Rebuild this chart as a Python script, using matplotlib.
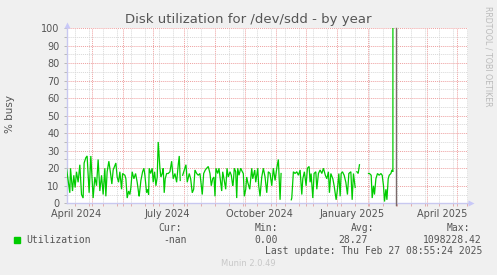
import numpy as np
import pandas as pd
import matplotlib
matplotlib.use("Agg")
import matplotlib.pyplot as plt
import matplotlib.dates as mdates

# ---- data ----
start_date = "2024-04-06"
day_offsets = [
    0, 2.3, 3.3, 4, 6, 7.3, 8.6, 10, 11.6, 13.3, 15, 16.6, 17.6, 19.3, 20.6, 22.6, 24.3,
    26.6, 28.3, 30, 31.6, 33.3, 35, 36.6, 38.3, 39.3, 40.6, 42.3, 44, 45.3, 46.6, 48,
    49.3, 50.6, 52, 53.3, 55, 56, 58.3, 59.3, 60.6, 62, 63.3, 64.3, 65.6, 67.3, 69,
    70.6, 72, 72.6, 74.3, 76, 77.3, 78.3, 80, 81, 82, 82.6, 84, 85.6, 86.6, 88, 89.3,
    90.6, 91.6, 93.3, 94.3, 95.6, 96.6, 97.6, 98.6, 100, 101.6, 103.3, 105, 106.6,
    108.3, 110, 111.6, 112.6, 113.6, 114.8, 116, 117.6, 119.3, 120.6, 122.6, 124,
    125.6, 127, 128.3, 130, 131.6, 133.3, 134.3, 135.6, 137, 138.6, 140, 141.6, 143.3,
    144.6, 146, 147.3, 148.3, 149.3, 151, 152.3, 154, 155, 156, 157.3, 159, 160.3,
    161.6, 163.3, 164.6, 166, 166.6, 167.6, 169, 170, 171, 172.3, 174, 175.6, 176.6,
    177.6, 179, 180, 181, 183, 185, 186, 188, 189, 191, 192, 193.3, 195, 196.6, 198.3,
    200, 201.6, 203.3, 205, 206.6, 208.3, 210, 211.6, 213.3, 214.3, 220, 224.5, 225,
    226.6, 228.3, 230, 231.6, 233.3, 235, 236, 237.6, 239.3, 240.6, 242.3, 243.3,
    244.3, 246, 247.3, 249, 250, 251.6, 253.3, 255, 256.6, 258.5, 260, 261.6, 262.6,
    264, 266, 267.3, 269.3, 270.6, 272, 273.3, 274.3, 275.6, 277.3, 279, 280.6, 282,
    284, 285.3, 286.6, 288.3, 289.2, 290, 291.3, 292.6, 297, 301.6, 302.6, 304.3,
    305.3, 306.6, 307.6, 309, 310.6, 312.3, 314, 315.3, 316.6, 317.6, 319, 320, 321.3,
    322.3, 324, 325, 326, 327,
]
util = [
    20, 10, 6, 20, 7, 16, 9, 18, 12, 22, 5, 3, 23, 26, 27, 6, 27,
    3, 15, 10, 25, 7, 16, 5, 20, 4, 18, 24, 17, 11, 19, 21,
    23, 15, 12, 18, 8, 17, 16, 14, 3, 7, 5, 9, 18, 14, 17,
    12, 6, 4, 13, 18, 20, 16, 6, 8, 5, 20, 17, 20, 12, 18, 10,
    15, 35, 20, 15, 17, 20, 6, 14, 17, 17, 18, 24, 14,
    17, 12, 22, 27, 13, np.nan, 16, 19, 22, 12, 17, 14,
    6, 8, 19, 17, 16, 17, 12, 5, 17, 19, 20, 21, 17,
    10, 14, 15, 4, 20, 17, 20, 12, 7, 18, 14, 8, 20,
    15, 18, 16, 10, 12, 20, 18, 3, 20, 16, 20, 18, 17,
    4, 8, 15, 12, 8, 20, 14, 19, 12, 20, 10, 4, 15, 20, 15,
    6, 18, 17, 10, 20, 13, 20, 25, 2, 17, np.nan, 2, 3,
    18, 17, 18, 16, 19, 5, 14, 18, 10, 20, 21, 12,
    17, 3, 17, 18, 8, 17, 19, 17, 20, 16, 14, 18, 6,
    17, 14, 10, 2, 8, 17, 4, 17, 18, 16, 12, 5, 17,
    18, 2, 17, 9, np.nan, 18, 17, 22, np.nan, 17, 17, 16,
    3, 10, 5, 14, 17, 16, 17, 16, 10, 1, 8, 2, 14,
    16, 17, 19, 18, 1098228.42,
]

month_labels = ["April 2024", "July 2024", "October 2024", "January 2025", "April 2025"]
month_label_dates = ["2024-04-16", "2024-07-16", "2024-10-16", "2025-01-16", "2025-04-16"]

legend_name = "Utilization"
stat_names = ["Cur:", "Min:", "Avg:", "Max:"]
stat_values = ["-nan", "0.00", "28.27", "1098228.42"]
last_update = "Last update: Thu Feb 27 08:55:24 2025"

# ---- figure ----
W, H = 497, 275
fig = plt.figure(figsize=(W / 100, H / 100), dpi=100, facecolor="#F0F0F0")
L, R, T, B = 66.5, 468, 28, 203.3
ax = fig.add_axes([L / W, 1 - B / H, (R - L) / W, (B - T) / H], facecolor="white")

dates = pd.Timestamp(start_date) + pd.to_timedelta(day_offsets, unit="D")
ax.plot(dates, util, color="#00CC00", lw=0.9, solid_joinstyle="miter", zorder=3)

ax.axvline(pd.Timestamp("2025-03-01"), color="#7a6a6a", lw=1.0, zorder=4, ymin=-0.01, clip_on=False)

ax.set_xlim(pd.Timestamp("2024-04-06"), pd.Timestamp("2025-05-12"))
ax.set_ylim(0, 100)

ax.set_yticks(np.arange(0, 101, 10))
ax.set_yticks(np.arange(5, 100, 10), minor=True)
ax.xaxis.set_major_locator(mdates.MonthLocator())
ax.set_xticks(pd.date_range("2024-04-14", "2025-05-12", freq="14D"), minor=True)
ax.set_xticklabels([])

ax.grid(which="minor", color="#D8D8D8", linestyle=(0, (1, 1)), lw=0.7, zorder=1)
ax.grid(which="major", color="#EEA0A0", linestyle=(0, (1, 1)), lw=0.7, zorder=2)

ax.tick_params(axis="y", which="both", length=2, width=0.6, color="#B0B0B0",
               labelsize=7, labelcolor="#555555", pad=3)
ax.tick_params(axis="x", which="both", length=2, width=0.6, color="#E0A0A0",
               labelsize=7, labelcolor="#555555")

for s in ["top", "right"]:
    ax.spines[s].set_visible(False)
for s in ["left", "bottom"]:
    ax.spines[s].set_color("#C8C8F0")
    ax.spines[s].set_linewidth(1.0)

# axis arrows
ax.plot([0], [1 + 3 / 175], marker="^", ms=4, color="#C8C8F8", transform=ax.transAxes,
        clip_on=False, mec="none")
ax.plot([1 + 3 / 401], [0], marker=">", ms=4, color="#C8C8F8", transform=ax.transAxes,
        clip_on=False, mec="none")

trans = matplotlib.transforms.blended_transform_factory(ax.transData, ax.transAxes)
for d, lab in zip(month_label_dates, month_labels):
    ax.text(pd.Timestamp(d), -0.035, lab, transform=trans, ha="center", va="top",
            fontsize=7, color="#555555")

ax.set_ylabel("% busy", fontsize=7.5, color="#555555", labelpad=6)
ax.yaxis.set_label_coords(-52 / (R - L), 0.51)

fig.text(248.5 / W, 1 - 19 / H, "Disk utilization for /dev/sdd - by year", ha="center",
         va="center", fontsize=9.5, color="#555555")
fig.text(488 / W, 1 - 56 / H, "RRDTOOL / TOBI OETIKER", rotation=270, ha="center",
         va="center", fontsize=5.7, color="#BBBBBB")

mono = "DejaVu Sans Mono"
fig.patches.append(matplotlib.patches.Rectangle((14 / W, 1 - 242.5 / H), 5.5 / W, 5.5 / H,
                   transform=fig.transFigure, color="#00CC00"))
fig.text(26 / W, 1 - 240 / H, legend_name, family=mono, fontsize=7, color="#555555", va="center")
name_x = [158, 255, 351, 447]
val_right = [187, 278, 368, 482]
for nx, nm, vr, vl in zip(name_x, stat_names, val_right, stat_values):
    fig.text(nx / W, 1 - 228 / H, nm, family=mono, fontsize=7, color="#555555", va="center")
    fig.text(vr / W, 1 - 240 / H, vl, family=mono, fontsize=7, color="#555555", va="center",
             ha="right")
fig.text(482 / W, 1 - 251 / H, last_update, family=mono, fontsize=7, color="#555555",
         va="center", ha="right")
fig.text(248.5 / W, 1 - 264 / H, "Munin 2.0.49", fontsize=6, color="#C8C8C8", ha="center",
         va="center")

fig.savefig("out.png", dpi=100, facecolor=fig.get_facecolor())
